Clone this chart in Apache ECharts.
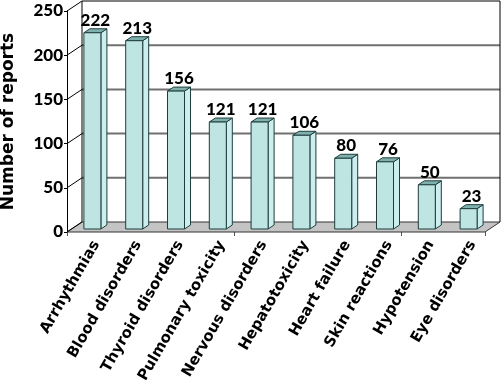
<!DOCTYPE html>
<html><head><meta charset="utf-8">
<script src="https://cdn.jsdelivr.net/npm/echarts@6/dist/echarts.min.js"></script>
<style>html,body{margin:0;padding:0;background:#fff}#c{width:501px;height:385px}</style>
</head><body><div id="c"></div>
<script>
var categories = ['Arrhythmias','Blood disorders','Thyroid disorders','Pulmonary toxicity','Nervous disorders','Hepatotoxicity','Heart failure','Skin reactions','Hypotension','Eye disorders'];
var reports = [222,213,156,121,121,106,80,76,50,23];
var yTicks = [0,50,100,150,200,250];

var WX = 15, WY = -10;   // wall depth
var BX = 6, BY = -4;     // bar depth
var chart = echarts.init(document.getElementById('c'));

function frameItem(params, api) {
  var cs = params.coordSys;
  var x0 = cs.x, x1 = cs.x + cs.width;
  var y0 = api.coord([0, 0])[1];
  var yTop = api.coord([0, yTicks[yTicks.length-1]])[1];
  var ch = [];
  ch.push({type:'polygon', shape:{points:[[x0,y0],[x1,y0],[x1+WX,y0+WY],[x0+WX,y0+WY]]},
    style:{fill:'#c4c4c4', stroke:'#333', lineWidth:1}});
  yTicks.forEach(function(v){
    if (v === 0 || v === yTicks[yTicks.length-1]) return;
    var y = api.coord([0, v])[1] + WY;
    ch.push({type:'line', shape:{x1:x0+WX, y1:y, x2:x1+WX, y2:y}, style:{stroke:'#707070', lineWidth:2}});
  });
  yTicks.forEach(function(v){
    var y = api.coord([0, v])[1];
    ch.push({type:'line', shape:{x1:x0, y1:y, x2:x0+WX, y2:y+WY}, style:{stroke:'#000', lineWidth:1}});
  });
  ch.push({type:'polyline', shape:{points:[[x0+WX,y0+WY],[x0+WX,yTop+WY],[x1+WX,yTop+WY],[x1+WX,y0+WY]]},
    style:{stroke:'#000', fill:null, lineWidth:1}});
  return {type:'group', children:ch};
}

function barItem(params, api) {
  var i = api.value(0), v = api.value(1);
  var top = api.coord([i, v]);
  var bot = api.coord([i, 0]);
  var cx = top[0];
  var l = cx - 4, r = cx + 13;
  var yb = bot[1] - 3, yt = top[1] - 3;
  var st = {stroke:'#1f3d3d', lineWidth:1};
  return {type:'group', children:[
    {type:'polygon', shape:{points:[[r,yb],[r+BX,yb+BY],[r+BX,yt+BY],[r,yt]]}, style:Object.assign({fill:'#cdeeee'}, st)},
    {type:'polygon', shape:{points:[[l,yt],[r,yt],[r+BX,yt+BY],[l+BX,yt+BY]]}, style:Object.assign({fill:'#7fb0ae'}, st)},
    {type:'rect', shape:{x:l, y:yt, width:r-l, height:yb-yt}, style:Object.assign({fill:'#bfe5e3'}, st)},
    {type:'text', style:{text:String(v), x:(l+r+BX)/2, y:yt+BY, align:'center', verticalAlign:'bottom',
      font:'900 17px Lato', fill:'#000'}},
    {type:'text', x:cx+2, y:bot[1]+6, rotation:Math.PI*60/180,
      style:{text:categories[i], x:0, y:0, align:'right', verticalAlign:'top',
        font:'bold 15px "DejaVu Sans"', fill:'#000'}}
  ]};
}

chart.setOption({
  animation:false,
  grid:{left:67, right:16, top:11, bottom:153, outerBoundsMode:'none', containLabel:false},
  xAxis:{type:'category', data:categories,
    axisLine:{show:false},
    axisTick:{show:true, length:4, lineStyle:{color:'#555'}},
    axisLabel:{show:false}},
  yAxis:{type:'value', min:0, max:250, interval:50,
    name:'Number of reports', nameLocation:'middle', nameGap:50, nameRotate:90,
    nameTextStyle:{fontFamily:'DejaVu Sans', fontWeight:'bold', fontSize:17, color:'#000'},
    axisLine:{show:true, lineStyle:{color:'#000'}},
    axisTick:{show:true, length:3, lineStyle:{color:'#000'}},
    axisLabel:{fontFamily:'Lato', fontWeight:900, fontSize:17, color:'#000', margin:4},
    splitLine:{show:false}},
  series:[
    {type:'custom', renderItem:frameItem, data:[[0,0]], z:1, silent:true},
    {type:'custom', renderItem:barItem, data:reports.map(function(v,i){return [i,v];}), z:3,
     encode:{x:0, y:1}}
  ]
});
</script></body></html>
